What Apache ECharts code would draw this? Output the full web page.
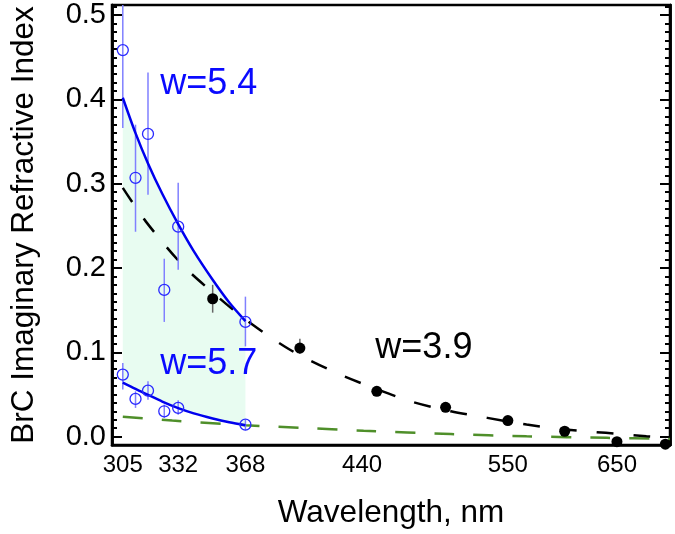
<!DOCTYPE html>
<html>
<head>
<meta charset="utf-8">
<script src="https://cdn.jsdelivr.net/npm/echarts@6/dist/echarts.min.js"></script>
<style>
html, body { margin: 0; padding: 0; background: #fff; }
#chart { width: 675px; height: 534px; }
</style>
</head>
<body>
<div id="chart"></div>
<script>
// axis ticks
var xTicks = [305, 332, 368, 440, 550, 650];
var yTicks = [0, 0.1, 0.2, 0.3, 0.4, 0.5];
var yMinor = [0, 0.01, 0.02, 0.03, 0.04, 0.05, 0.06, 0.07, 0.08, 0.09, 0.1, 0.11, 0.12, 0.13, 0.14, 0.15, 0.16, 0.17, 0.18, 0.19,
  0.2, 0.21, 0.22, 0.23, 0.24, 0.25, 0.26, 0.27, 0.28, 0.29, 0.3, 0.31, 0.32, 0.33, 0.34, 0.35, 0.36, 0.37, 0.38, 0.39,
  0.4, 0.41, 0.42, 0.43, 0.44, 0.45, 0.46, 0.47, 0.48, 0.49, 0.5, 0.51];

// blue fits (w=5.4 upper, w=5.7 lower)
var fitWl = [305, 311, 317, 324, 332, 340, 350, 359, 368];
var fitHigh = [0.402, 0.360, 0.324, 0.288, 0.252, 0.220, 0.186, 0.159, 0.137];
var fitLow = [0.064, 0.0565, 0.0495, 0.0415, 0.0337, 0.0275, 0.0215, 0.017, 0.0134];

// blue open circles + error bars
var obsWl = [305, 311, 317, 325, 332, 368];
var obsHigh = [0.4585, 0.307, 0.359, 0.174, 0.249, 0.136];
var obsHighLo = [0.366, 0.243, 0.287, 0.136, 0.198, 0.107];
var obsHighHi = [0.55, 0.37, 0.432, 0.211, 0.301, 0.166];
var obsLow = [0.0735, 0.0447, 0.0545, 0.030, 0.034, 0.0142];
var obsLowLo = [0.0557, 0.034, 0.0438, 0.0221, 0.026, 0.0075];
var obsLowHi = [0.0873, 0.0537, 0.0655, 0.038, 0.043, 0.020];

// black dots + error bars
var dotWl = [350, 400, 450, 500, 550, 600, 650, 700];
var dotVal = [0.1635, 0.105, 0.0537, 0.0347, 0.019, 0.0063, -0.006, -0.009];
var dotLo = [0.147, 0.098, 0.050, 0.031, 0.016, 0.004, -0.008, -0.010];
var dotHi = [0.180, 0.116, 0.058, 0.038, 0.022, 0.009, -0.004, -0.008];

// black dashed fit (w=3.9)
var blackWl = [305, 316, 334, 350, 368, 394, 423, 445, 474, 504, 533, 566, 601, 639, 680, 705];
var blackFit = [0.295, 0.255, 0.204, 0.171, 0.139, 0.103, 0.0755, 0.0596, 0.0418, 0.030, 0.0222, 0.0142, 0.0083, 0.0044, 0.0004, -0.0015];

// green dashed line
var greenWl = [305, 329, 368, 400, 441, 504, 566, 640, 705];
var greenFit = [0.0235, 0.019, 0.0135, 0.0105, 0.0068, 0.0030, 0.0003, -0.0015, -0.0028];

var FONT = 'Liberation Sans, Arial, Helvetica, sans-serif';

function pairs(xs, ys) {
    return xs.map(function (x, i) { return [x, ys[i]]; });
}

function errBars(xs, lo, hi, color) {
    return {
        type: 'custom',
        clip: true,
        silent: true,
        z: 3,
        encode: { x: 0, y: [1, 2] },
        data: xs.map(function (x, i) { return [x, lo[i], hi[i]]; }),
        renderItem: function (params, api) {
            var a = api.coord([api.value(0), api.value(1)]);
            var b = api.coord([api.value(0), api.value(2)]);
            return {
                type: 'line',
                shape: { x1: a[0], y1: a[1], x2: b[0], y2: b[1] },
                style: { stroke: color, lineWidth: 1.5 }
            };
        }
    };
}

function tickAxis(position, values, len) {
    return {
        type: 'value',
        position: position,
        min: -0.01,
        max: 0.512,
        axisLine: { show: true, onZero: false, lineStyle: { color: '#000', width: 2.5 } },
        axisTick: { show: true, inside: true, length: len, customValues: values, lineStyle: { color: '#000', width: 2 } },
        axisLabel: { show: false },
        splitLine: { show: false }
    };
}

var chart = echarts.init(document.getElementById('chart'));

var leftAxis = tickAxis('left', yTicks, 10);
leftAxis.axisLabel = {
    show: true,
    customValues: yTicks,
    formatter: function (v) { return v.toFixed(1); },
    color: '#000',
    fontSize: 29,
    fontFamily: FONT,
    margin: 6
};
leftAxis.name = 'BrC Imaginary Refractive Index';
leftAxis.nameLocation = 'middle';
leftAxis.nameGap = 72;
leftAxis.nameTextStyle = { color: '#000', fontSize: 31.5, fontFamily: FONT };

chart.setOption({
    animation: false,
    backgroundColor: '#fff',
    grid: {
        left: 105, right: 5, top: 5, bottom: 89,
        show: true, borderColor: '#000', borderWidth: 2.5
    },
    xAxis: {
        type: 'log',
        logBase: 10,
        min: 300,
        max: 705,
        axisLine: { onZero: false, lineStyle: { color: '#000', width: 2.5 } },
        axisTick: { show: false },
        splitLine: { show: false },
        minorSplitLine: { show: false },
        axisLabel: { customValues: xTicks, color: '#000', fontSize: 24, fontFamily: FONT, margin: 8 },
        name: 'Wavelength, nm',
        nameLocation: 'middle',
        nameGap: 52,
        nameTextStyle: { color: '#000', fontSize: 31.5, fontFamily: FONT }
    },
    yAxis: [
        leftAxis,
        tickAxis('left', yMinor, 5),
        tickAxis('right', yTicks, 10),
        tickAxis('right', yMinor, 5)
    ],
    series: [
        {
            // shaded band between the two blue fits
            type: 'custom',
            silent: true,
            z: 1,
            data: [[fitWl[0], fitHigh[0]]],
            renderItem: function (params, api) {
                var pts = [];
                for (var i = 0; i < fitWl.length; i++) pts.push(api.coord([fitWl[i], fitHigh[i]]));
                for (var j = fitWl.length - 1; j >= 0; j--) pts.push(api.coord([fitWl[j], fitLow[j]]));
                return { type: 'polygon', shape: { points: pts }, style: { fill: '#e8fcf1' } };
            }
        },
        {
            type: 'line', data: pairs(greenWl, greenFit), smooth: 0.3, symbol: 'none', z: 2,
            lineStyle: { color: '#4f8f2a', width: 2.5, type: [20, 19] }
        },
        {
            type: 'line', data: pairs(blackWl, blackFit), smooth: 0.3, symbol: 'none', z: 2,
            lineStyle: { color: '#000', width: 2.5, type: [17, 20] }
        },
        {
            type: 'line', data: pairs(fitWl, fitHigh), smooth: 0.3, symbol: 'none', z: 4,
            lineStyle: { color: '#0000ee', width: 2.5 }
        },
        {
            type: 'line', data: pairs(fitWl, fitLow), smooth: 0.3, symbol: 'none', z: 4,
            lineStyle: { color: '#0000ee', width: 2.5 }
        },
        errBars(obsWl, obsHighLo, obsHighHi, '#8080ff'),
        errBars(obsWl, obsLowLo, obsLowHi, '#8080ff'),
        errBars(dotWl, dotLo, dotHi, '#666'),
        {
            type: 'scatter', data: pairs(obsWl, obsHigh), symbol: 'circle', symbolSize: 11, z: 5,
            itemStyle: { color: 'rgba(0,0,0,0)', borderColor: '#2a2aff', borderWidth: 1.3, opacity: 1 }
        },
        {
            type: 'scatter', data: pairs(obsWl, obsLow), symbol: 'circle', symbolSize: 11, z: 5,
            itemStyle: { color: 'rgba(0,0,0,0)', borderColor: '#2a2aff', borderWidth: 1.3, opacity: 1 }
        },
        {
            type: 'scatter', data: pairs(dotWl, dotVal), symbol: 'circle', symbolSize: 11, z: 5,
            itemStyle: { color: '#000', opacity: 1 }
        },
        {
            // text labels placed in data coordinates
            type: 'scatter', symbolSize: 0, z: 6, silent: true,
            itemStyle: { opacity: 1 },
            data: [
                { value: [323, 0.418], name: 'w=5.4', label: { color: '#0a0aff' } },
                { value: [323, 0.0865], name: 'w=5.7', label: { color: '#0a0aff' } },
                { value: [449, 0.1055], name: 'w=3.9', label: { color: '#000' } }
            ],
            label: {
                show: true, position: 'right', distance: 0,
                formatter: '{b}', fontSize: 36, fontFamily: FONT
            }
        }
    ]
});
</script>
</body>
</html>
